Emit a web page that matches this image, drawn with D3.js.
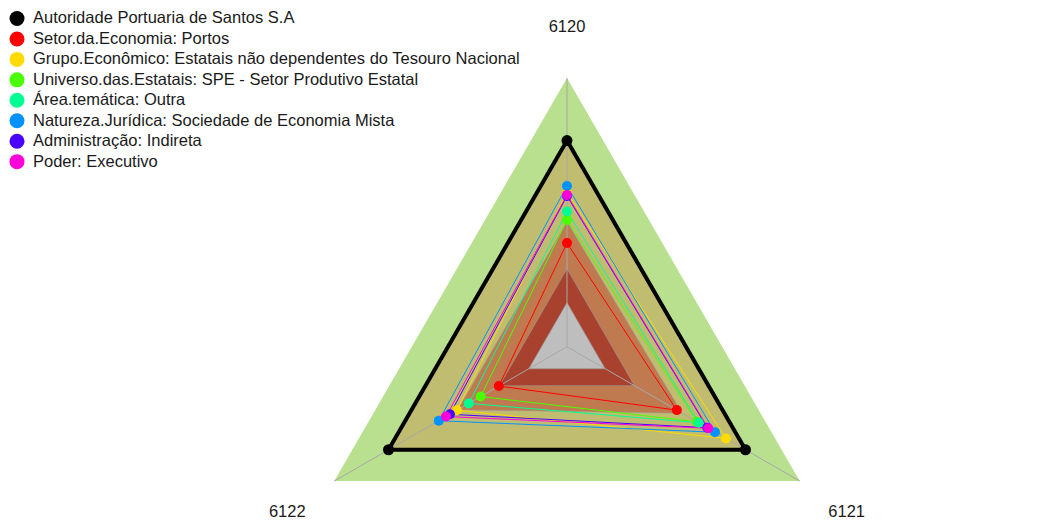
<!DOCTYPE html>
<html>
<head>
<meta charset="utf-8">
<script src="https://cdn.jsdelivr.net/npm/d3@7"></script>
<style>
  html, body { margin: 0; padding: 0; background: #fff; }
  svg { display: block; font-family: "Liberation Sans", Arial, sans-serif; }
</style>
</head>
<body>
<svg id="chart" width="1043" height="520"></svg>
<script>
// ---- data ----
const axesLabels = ["6120", "6121", "6122"];

const seriesNames = [
  "Autoridade Portuaria de Santos S.A",
  "Setor.da.Economia: Portos",
  "Grupo.Econômico: Estatais não dependentes do Tesouro Nacional",
  "Universo.das.Estatais: SPE - Setor Produtivo Estatal",
  "Área.temática: Outra",
  "Natureza.Jurídica: Sociedade de Economia Mista",
  "Administração: Indireta",
  "Poder: Executivo"
];
const seriesColors = ["#000000", "#FF0000", "#FFDB00", "#49FF00", "#00FF92", "#0092FF", "#4900FF", "#FF00DB"];

// values on each axis (6120, 6121, 6122), scale 0-100
const valAutoridade   = [76.7, 76.7, 76.7];
const valSetor        = [38.6, 47.2, 29.3];
const valGrupo        = [57.5, 68.3, 47.3];
const valUniverso     = [47.2, 55.9, 37.1];
const valArea         = [50.3, 56.6, 42.2];
const valNatureza     = [59.8, 63.6, 55.1];
const valAdministracao= [56.1, 60.3, 50.3];
const valPoder        = [56.5, 60.7, 52.0];
const seriesValues = [valAutoridade, valSetor, valGrupo, valUniverso, valArea, valNatureza, valAdministracao, valPoder];

// background bands (outer to inner)
const bandValues = [
  [100, 100, 100],
  [75.9, 75.9, 75.9],
  [46.5, 49.5, 47.0],
  [29.0, 29.0, 29.0],
  [16.4, 16.4, 16.4]
];
const bandColors = ["#B8E08F", "#C0BD70", "#C07A50", "#A8422E", "#BEBEBE"];

// ---- layout ----
const svg = d3.select("#chart");
const cx = 567, cy = 346.7, R = 268.7;
const r = d3.scaleLinear().domain([0, 100]).range([0, R]);
const angle = d3.scalePoint().domain(axesLabels).range([0, 2 * Math.PI * 2 / 3]);

const g = svg.append("g").attr("transform", `translate(${cx},${cy})`);

const radial = d3.lineRadial()
  .angle((d, i) => angle(axesLabels[i]))
  .radius(d => r(d))
  .curve(d3.curveLinearClosed);

function pt(v, i) {
  const a = angle(axesLabels[i]);
  return [Math.sin(a) * r(v), -Math.cos(a) * r(v)];
}

// bands
g.selectAll("path.band").data(bandValues).join("path")
  .attr("class", "band")
  .attr("d", d => radial(d))
  .attr("fill", (d, i) => bandColors[i])
  .attr("stroke", (d, i) => i === 0 ? "none" : "#9a9a9a")
  .attr("stroke-width", 0.6);

// axis lines
g.selectAll("line.axis").data(axesLabels).join("line")
  .attr("class", "axis")
  .attr("x1", 0).attr("y1", 0)
  .attr("x2", (d, i) => pt(100, i)[0])
  .attr("y2", (d, i) => pt(100, i)[1])
  .attr("stroke", "#a8a8a8")
  .attr("stroke-width", 1);

// axis labels
const labelR = 120.2;
g.selectAll("text.axlab").data(axesLabels).join("text")
  .attr("class", "axlab")
  .attr("x", (d, i) => pt(labelR, i)[0])
  .attr("y", (d, i) => pt(labelR, i)[1] + 4)
  .attr("text-anchor", "middle")
  .attr("dominant-baseline", "middle")
  .attr("font-size", 16.5)
  .attr("fill", "#1a1a1a")
  .text(d => d);

// series lines
const order = [1, 2, 3, 4, 5, 6, 7, 0];
order.forEach(si => {
  g.append("path")
    .attr("d", radial(seriesValues[si]))
    .attr("fill", "none")
    .attr("stroke", seriesColors[si])
    .attr("stroke-width", si === 0 ? 4 : 1);
});
// series points
order.forEach(si => {
  g.selectAll(null).data(seriesValues[si]).join("circle")
    .attr("cx", (d, i) => pt(d, i)[0])
    .attr("cy", (d, i) => pt(d, i)[1])
    .attr("r", si === 0 ? 5.5 : 5)
    .attr("fill", seriesColors[si]);
});

// legend
const leg = svg.append("g").attr("transform", "translate(17,18.5)");
const rows = leg.selectAll("g").data(seriesNames).join("g")
  .attr("transform", (d, i) => `translate(0,${i * 20.45})`);
rows.append("circle").attr("r", 7.5).attr("fill", (d, i) => seriesColors[i]);
rows.append("text")
  .attr("x", 16).attr("y", 0.5)
  .attr("dominant-baseline", "middle")
  .attr("font-size", 16.5)
  .attr("fill", "#1a1a1a")
  .text(d => d);
</script>
</body>
</html>
